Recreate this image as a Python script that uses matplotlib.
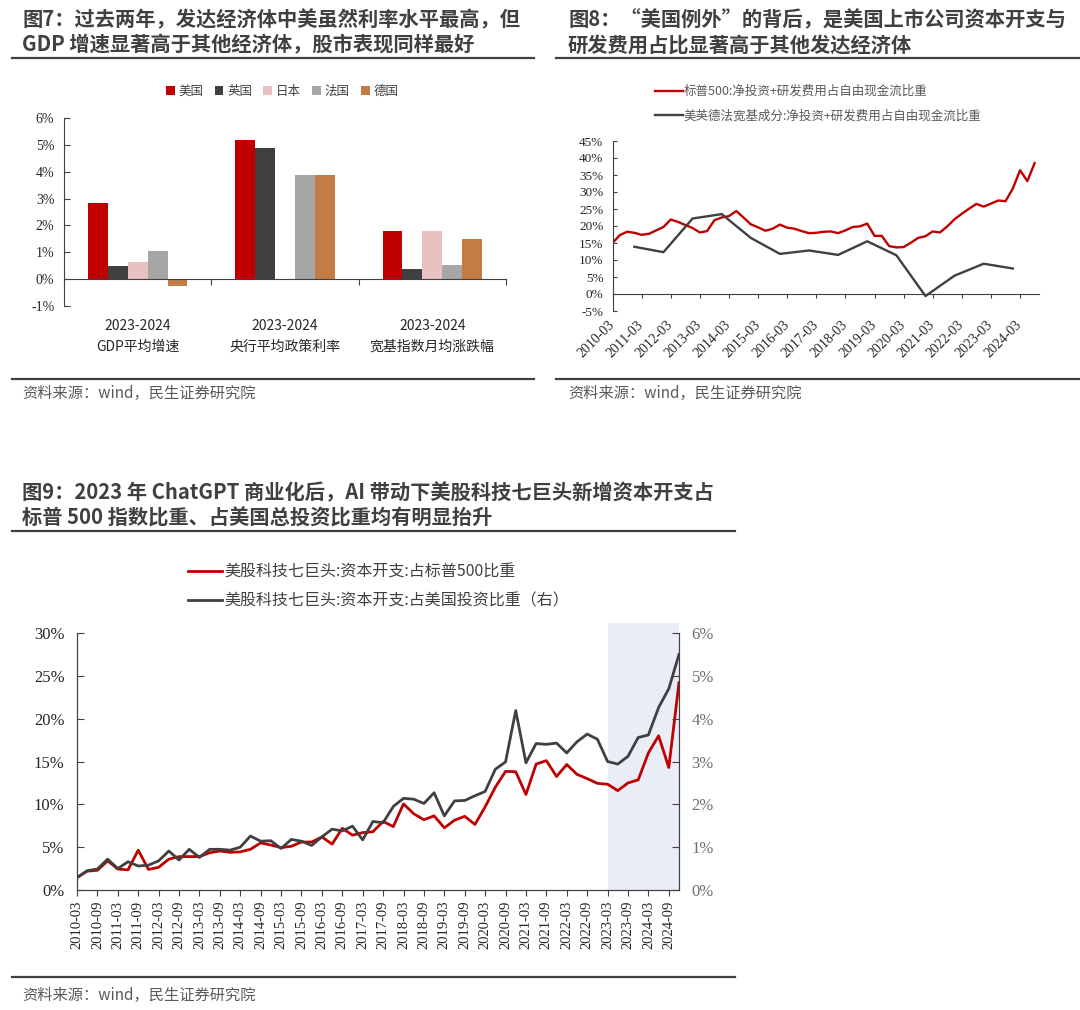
import matplotlib
matplotlib.use('Agg')
import matplotlib.pyplot as plt
import matplotlib.lines as lines
import numpy as np
import pandas as pd

plt.rcParams['font.family'] = ['Noto Sans CJK SC', 'DejaVu Sans']
plt.rcParams['axes.unicode_minus'] = False

##################
# data
##################
# fig 7
countries = ['美国', '英国', '日本', '法国', '德国']
country_colors = ['#C00000', '#404040', '#E8C2C2', '#A6A6A6', '#C27C46']
groups7 = ['2023-2024\nGDP平均增速', '2023-2024\n央行平均政策利率', '2023-2024\n宽基指数月均涨跌幅']
gdp_growth = [2.83, 0.49, 0.65, 1.03, -0.24]
policy_rate = [5.19, 4.89, 0.0, 3.89, 3.89]
index_monthly = [1.79, 0.37, 1.78, 0.53, 1.49]

# fig 8 (quarterly 2010-03 .. 2024-09, peers annual at Dec)
quarters8 = pd.period_range('2010Q1', '2024Q3', freq='Q')
sp500_invest = [15.0, 17.3, 18.3, 18.0, 17.4, 17.7, 18.7, 19.7, 21.9, 21.2,
                20.3, 19.4, 18.1, 18.5, 21.7, 22.5, 22.9, 24.4, 22.5, 20.5,
                19.6, 18.6, 19.2, 20.4, 19.5, 19.2, 18.5, 17.9, 18.0, 18.3,
                18.4, 17.9, 18.7, 19.7, 19.9, 20.7, 17.1, 17.1, 14.1, 13.7,
                13.8, 15.1, 16.5, 17.0, 18.4, 18.1, 19.9, 22.0, 23.6, 25.1,
                26.5, 25.7, 26.6, 27.5, 27.3, 31.0, 36.4, 33.2, 38.5]
peer_years = pd.period_range('2010Q4', '2023Q4', freq='Q')[::4]
peers_invest = [13.9, 12.3, 22.2, 23.5, 16.5, 11.8, 12.8, 11.5, 15.5, 11.4,
                -0.6, 5.4, 8.9, 7.5]

# fig 9 (quarterly 2010-03 .. 2024-12)
quarters9 = pd.period_range('2010Q1', '2024Q4', freq='Q')
m7_capex_sp500 = [1.45, 2.2, 2.3, 3.4, 2.45, 2.35, 4.65, 2.4, 2.65, 3.6,
                  3.9, 3.9, 3.9, 4.35, 4.55, 4.4, 4.45, 4.75, 5.5, 5.25,
                  4.95, 5.1, 5.6, 5.6, 6.2, 5.35, 7.2, 6.4, 6.7, 6.8,
                  8.0, 7.4, 10.05, 8.9, 8.2, 8.65, 7.25, 8.15, 8.6, 7.65,
                  9.7, 12.0, 13.85, 13.8, 11.15, 14.7, 15.1, 13.25, 14.65, 13.5,
                  13.0, 12.45, 12.35, 11.6, 12.5, 12.85, 16.0, 18.0, 14.3, 24.2]
m7_capex_us_inv = [0.29, 0.45, 0.49, 0.72, 0.50, 0.66, 0.56, 0.58, 0.68, 0.91,
                   0.70, 0.95, 0.76, 0.95, 0.95, 0.93, 1.00, 1.26, 1.14, 1.15,
                   0.97, 1.18, 1.14, 1.04, 1.24, 1.42, 1.38, 1.49, 1.17, 1.60,
                   1.57, 1.95, 2.14, 2.12, 2.02, 2.27, 1.73, 2.08, 2.09, 2.20,
                   2.30, 2.82, 2.99, 4.19, 2.97, 3.42, 3.40, 3.43, 3.20, 3.46,
                   3.64, 3.52, 3.00, 2.94, 3.12, 3.56, 3.62, 4.26, 4.70, 5.50]
highlight_start = pd.Period('2023Q1', freq='Q')

RED = '#C00000'
DARK = '#404040'
TXT = '#404040'
SERIF = 'Liberation Serif'
W, H = 1080, 1010


def fx(px):
    return px / W


def fy(py):
    return 1 - py / H


def pct(v, pos=None):
    return '%d%%' % round(v)


fig = plt.figure(figsize=(10.8, 10.1), dpi=100)

##################
# titles, rules and sources
##################
titles = [
    (22, 20, '图7：过去两年，发达经济体中美虽然利率水平最高，但'),
    (22, 45, 'GDP 增速显著高于其他经济体，股市表现同样最好'),
    (568, 20, '图8：“美国例外”的背后，是美国上市公司资本开支与'),
    (568, 45, '研发费用占比显著高于其他发达经济体'),
    (22, 493, '图9：2023 年 ChatGPT 商业化后，AI 带动下美股科技七巨头新增资本开支占'),
    (22, 518, '标普 500 指数比重、占美国总投资比重均有明显抬升'),
]
for x, y, s in titles:
    fig.text(fx(x), fy(y), s, fontsize=14.6, fontweight='bold', color=TXT, va='center')

rules = [(12, 534, 58), (12, 534, 379), (556, 1080, 58), (556, 1080, 379),
         (12, 735, 531), (12, 735, 977)]
for x0, x1, y in rules:
    fig.add_artist(lines.Line2D([fx(x0), fx(x1)], [fy(y), fy(y)], color=DARK, linewidth=1.6))

for x, y in [(22, 393), (568, 393), (22, 995)]:
    fig.text(fx(x), fy(y), '资料来源：wind，民生证券研究院', fontsize=11, color='#595959', va='center')

##################
# fig 7: grouped bars
##################
ax7 = fig.add_axes([fx(64), fy(306), fx(442), 188 / H])
values7 = np.array([gdp_growth, policy_rate, index_monthly])
xpos = np.arange(len(groups7))
bw = 0.135
for k, name in enumerate(countries):
    ax7.bar(xpos + (k - 2) * bw, values7[:, k], width=bw, color=country_colors[k], label=name)

ax7.set_xlim(-0.5, 2.5)
ax7.set_ylim(-1, 6)
ax7.set_yticks(range(-1, 7))
ax7.yaxis.set_major_formatter(pct)
for s in ['top', 'right']:
    ax7.spines[s].set_visible(False)
ax7.spines['bottom'].set_position(('data', 0))
for s in ['left', 'bottom']:
    ax7.spines[s].set_color(DARK)
ax7.set_xticks([-0.5, 0.5, 1.5, 2.5])
ax7.set_xticklabels([])
ax7.set_xticks(xpos, minor=True)
ax7.set_xticklabels(groups7, minor=True, fontsize=10, color='#262626', linespacing=1.6)
ax7.tick_params(axis='x', which='major', direction='out', length=4, color=DARK)
ax7.tick_params(axis='x', which='minor', length=0, pad=29)
ax7.tick_params(axis='y', direction='in', length=4, color=DARK, labelsize=10, labelcolor='#262626', pad=7)
for t in ax7.get_yticklabels():
    t.set_fontfamily(SERIF)
ax7.legend(ncol=5, loc='center', bbox_to_anchor=(fx(282), fy(91)), bbox_transform=fig.transFigure,
           frameon=False, fontsize=9, handlelength=0.7, handleheight=0.7, handletextpad=0.3,
           columnspacing=0.9, labelcolor=TXT)

##################
# fig 8: lines
##################
ax8 = fig.add_axes([fx(612.5), fy(311), fx(426.5), 170 / H])
x8 = np.arange(len(quarters8))
x8_peer = np.array([(p - quarters8[0]).n for p in peer_years])
l8a, = ax8.plot(x8, sp500_invest, color=RED, linewidth=1.7,
                label='标普500:净投资+研发费用占自由现金流比重')
l8b, = ax8.plot(x8_peer, peers_invest, color=DARK, linewidth=1.7,
                label='美英德法宽基成分:净投资+研发费用占自由现金流比重')
ax8.set_xlim(0, 58.6)
ax8.set_ylim(-5, 45)
ax8.set_yticks(range(-5, 50, 5))
ax8.yaxis.set_major_formatter(pct)
for s in ['top', 'right']:
    ax8.spines[s].set_visible(False)
ax8.spines['bottom'].set_position(('data', 0))
for s in ['left', 'bottom']:
    ax8.spines[s].set_color(DARK)
ax8.set_xticks(x8[::4])
ax8.set_xticklabels([q.strftime('%Y-%m') for q in quarters8[::4]])
ax8.tick_params(axis='x', direction='out', length=3, color=DARK, pad=18, labelsize=10, labelcolor='#262626')
ax8.tick_params(axis='y', direction='in', length=3, color=DARK, labelsize=9.5, labelcolor='#262626', pad=6.5)
plt.setp(ax8.get_xticklabels(), rotation=45, ha='right', va='center', rotation_mode='anchor')
for t in ax8.get_xticklabels() + ax8.get_yticklabels():
    t.set_fontfamily(SERIF)
ax8.legend(handles=[l8a, l8b], loc='upper left', bbox_to_anchor=(fx(655), fy(85)),
           bbox_transform=fig.transFigure, frameon=False, fontsize=9, handlelength=2.2,
           handletextpad=0.1, labelspacing=0.9, borderpad=0, borderaxespad=0, labelcolor='#595959')

##################
# fig 9: lines on two axes
##################
ax9 = fig.add_axes([fx(77), fy(890), fx(602), 257 / H])
x9 = np.arange(len(quarters9))
hs = (highlight_start - quarters9[0]).n
ax9.axvspan(hs, x9[-1], ymin=0, ymax=1.04, color='#E9EEF6', zorder=0, clip_on=False, linewidth=0)
l9a, = ax9.plot(x9, m7_capex_sp500, color=RED, linewidth=2.0, label='美股科技七巨头:资本开支:占标普500比重')
ax9r = ax9.twinx()
l9b, = ax9r.plot(x9, m7_capex_us_inv, color=DARK, linewidth=2.0, label='美股科技七巨头:资本开支:占美国投资比重（右）')

ax9.set_xlim(0, x9[-1])
ax9.set_ylim(0, 30)
ax9r.set_ylim(0, 6)
ax9.set_yticks(range(0, 31, 5))
ax9r.set_yticks(range(0, 7))
ax9.yaxis.set_major_formatter(pct)
ax9r.yaxis.set_major_formatter(pct)
for a in [ax9, ax9r]:
    a.spines['top'].set_visible(False)
    for s in ['left', 'right', 'bottom']:
        a.spines[s].set_color(DARK)
ax9.set_xticks(x9[::2])
ax9.set_xticklabels([q.strftime('%Y-%m') for q in quarters9[::2]], rotation=90)
ax9.tick_params(axis='x', direction='out', length=4, color=DARK, labelsize=10.5, labelcolor='#262626')
ax9.tick_params(axis='y', direction='in', length=5, color=DARK, labelsize=12, labelcolor='#262626', pad=9)
ax9r.tick_params(axis='y', direction='in', length=5, color=DARK, labelsize=12, labelcolor='#6e6e6e', pad=9)
for t in ax9.get_xticklabels() + ax9.get_yticklabels() + ax9r.get_yticklabels():
    t.set_fontfamily(SERIF)
ax9r.legend(handles=[l9a, l9b], loc='upper left', bbox_to_anchor=(fx(188), fy(564)),
            bbox_transform=fig.transFigure, frameon=False, fontsize=11.5, handlelength=2.1,
            handletextpad=0.15, labelspacing=0.7, borderpad=0, borderaxespad=0, labelcolor=TXT)

fig.savefig('out.png', dpi=100, facecolor='white')
